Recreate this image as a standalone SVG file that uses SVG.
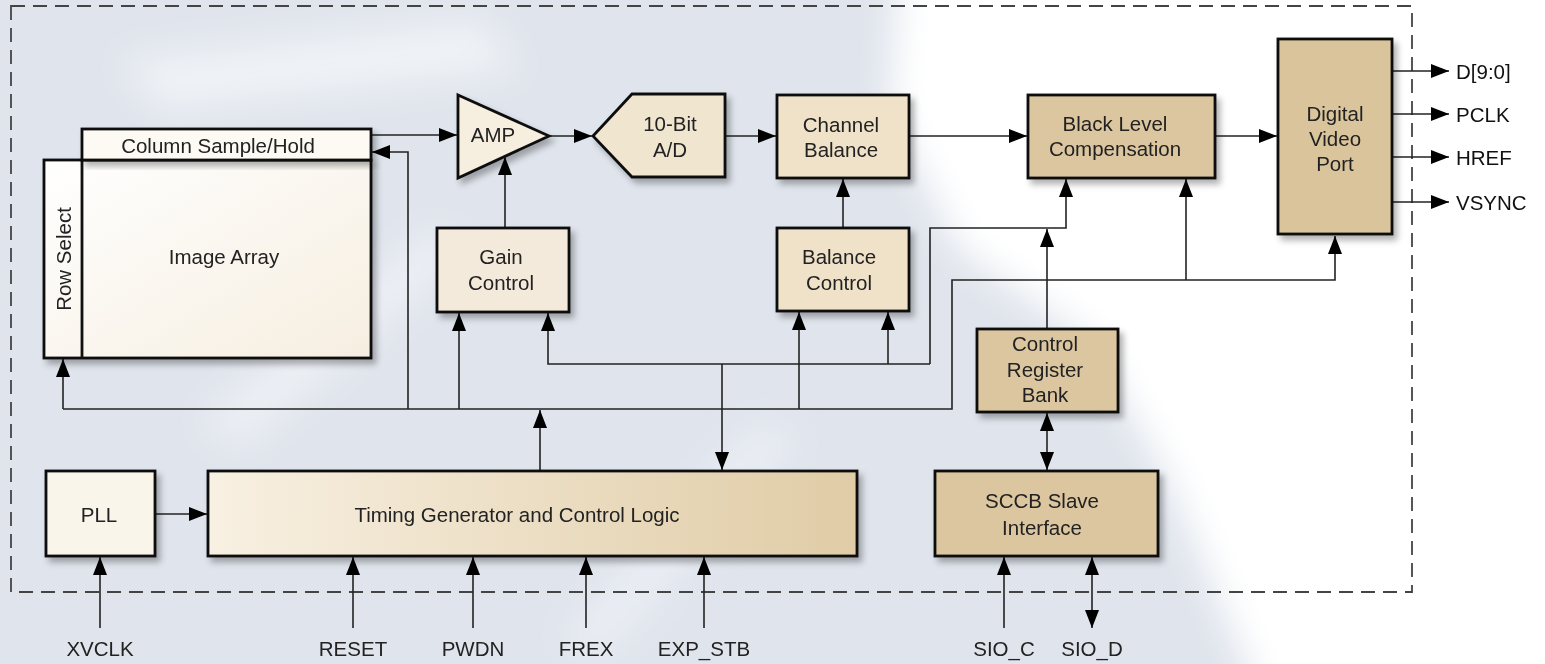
<svg xmlns="http://www.w3.org/2000/svg" width="1545" height="664" viewBox="0 0 1545 664">
<defs>
<style>
.box{stroke:#111;stroke-width:2.8}
.t{font-family:"Liberation Sans",Arial,sans-serif;font-size:20.5px;fill:#222;text-anchor:middle;dominant-baseline:central}
.lbl{font-family:"Liberation Sans",Arial,sans-serif;font-size:20.5px;fill:#111;dominant-baseline:central}
.ca{fill:none;stroke:#222;stroke-width:1.6;marker-end:url(#ah)}
.cd{fill:none;stroke:#222;stroke-width:1.6;marker-end:url(#ah);marker-start:url(#ah)}
.sh{filter:url(#shadow)}
</style>
<marker id="ah" viewBox="0 0 18 14" refX="18" refY="7" markerWidth="18" markerHeight="14" markerUnits="userSpaceOnUse" orient="auto-start-reverse">
<path d="M0,0 L18,7 L0,14 z" fill="#000"/>
</marker>
<filter id="shadow" x="-10%" y="-10%" width="130%" height="140%">
<feDropShadow dx="4" dy="5" stdDeviation="3" flood-color="#000" flood-opacity="0.3"/>
</filter>
<filter id="blur" x="-20%" y="-20%" width="140%" height="140%">
<feGaussianBlur stdDeviation="18"/>
</filter>
<linearGradient id="gImg" x1="0" y1="0" x2="1" y2="1">
<stop offset="0" stop-color="#ffffff"/>
<stop offset="1" stop-color="#f6eee0"/>
</linearGradient>
<linearGradient id="gTim" x1="0" y1="0" x2="1" y2="0">
<stop offset="0" stop-color="#f8f0e2"/>
<stop offset="1" stop-color="#e0cca6"/>
</linearGradient>
</defs>

<g id="background">
<rect x="0" y="0" width="1545" height="664" fill="#e0e5ed"/>
<g filter="url(#blur)">
<path d="M900,-40 L1600,-40 L1600,720 L1270,720 L1170,480 L1090,340 L960,250 L890,110 Z" fill="#ffffff"/>
<path d="M1420,-40 L1600,-40 L1600,720 L1440,720 Z" fill="#ffffff"/>
<path d="M120,60 L480,20 L520,70 L160,110 Z" fill="#f4f6f9" opacity="0.8"/>
<path d="M200,420 L430,230 L470,250 L240,450 Z" fill="#f2f4f8" opacity="0.7"/>
<path d="M560,640 L760,420 L800,440 L600,660 Z" fill="#eef1f6" opacity="0.7"/>
</g>
</g>

<g id="border">
<rect x="11" y="6" width="1401" height="586" fill="none" stroke="#444" stroke-width="1.8" stroke-dasharray="14 8"/>
</g>

<g id="connectors">
<path class="ca" d="M371,135 H457"/>
<path class="ca" d="M549,136 H592"/>
<path class="ca" d="M725,136 H776"/>
<path class="ca" d="M909,136 H1027"/>
<path class="ca" d="M1215,136 H1277"/>
<path class="ca" d="M1392,71 H1449"/>
<path class="ca" d="M1392,114 H1449"/>
<path class="ca" d="M1392,157 H1449"/>
<path class="ca" d="M1392,202 H1449"/>
<path class="ca" d="M505,228 V157"/>
<path class="ca" d="M843,228 V179"/>
<path class="ca" d="M63,409 H952 V280 H1335 V236"/>
<path class="ca" d="M63,409 V359"/>
<path class="ca" d="M408,409 V152 H372"/>
<path class="ca" d="M459,409 V313"/>
<path class="ca" d="M799,409 V312"/>
<path class="ca" d="M1186,280 V179"/>
<path class="ca" d="M540,471 V410"/>
<path class="ca" d="M930,364 H548 V313"/>
<path class="ca" d="M930,364 V228 H1066 V179"/>
<path class="ca" d="M888,364 V312"/>
<path class="ca" d="M722,364 V470"/>
<path class="ca" d="M1047,329 V229"/>
<path class="cd" d="M1047,413 V470"/>
<path class="ca" d="M155,514 H207"/>
<path class="ca" d="M100,628 V557"/>
<path class="ca" d="M353,628 V557"/>
<path class="ca" d="M473,628 V557"/>
<path class="ca" d="M586,628 V557"/>
<path class="ca" d="M704,628 V557"/>
<path class="ca" d="M1004,628 V557"/>
<path class="cd" d="M1092,557 V628"/>
</g>

<g id="image-array">
<rect class="box sh" x="44" y="160" width="327" height="198" fill="url(#gImg)"/>
<line x1="82" y1="160" x2="82" y2="358" stroke="#111" stroke-width="2.8"/>
<text class="t" x="224" y="256">Image Array</text>
</g>
<g id="row-select">
<text class="t" transform="translate(63,259) rotate(-90)" x="0" y="0">Row Select</text>
</g>
<g id="column-sample-hold">
<rect class="box sh" x="82" y="129" width="289" height="31" fill="#fdfaf4"/>
<text class="t" x="218" y="145">Column Sample/Hold</text>
</g>
<g id="amp">
<path class="box sh" d="M458,95 L549,136 L458,178 Z" fill="#f6efe0"/>
<text class="t" x="493" y="134">AMP</text>
</g>
<g id="adc">
<path class="box sh" d="M593,136 L632,94 L725,94 L725,177 L632,177 Z" fill="#f0e5cf"/>
<text class="t" x="670" y="123">10-Bit</text>
<text class="t" x="670" y="149">A/D</text>
</g>
<g id="channel-balance">
<rect class="box sh" x="777" y="95" width="132" height="83" fill="#efe2c9"/>
<text class="t" x="841" y="124">Channel</text>
<text class="t" x="841" y="149">Balance</text>
</g>
<g id="gain-control">
<rect class="box sh" x="437" y="228" width="132" height="84" fill="#f3eadb"/>
<text class="t" x="501" y="256">Gain</text>
<text class="t" x="501" y="282">Control</text>
</g>
<g id="balance-control">
<rect class="box sh" x="777" y="228" width="132" height="83" fill="#efe2c9"/>
<text class="t" x="839" y="256">Balance</text>
<text class="t" x="839" y="282">Control</text>
</g>
<g id="black-level-compensation">
<rect class="box sh" x="1028" y="95" width="187" height="83" fill="#dbc69f"/>
<text class="t" x="1115" y="123">Black Level</text>
<text class="t" x="1115" y="148">Compensation</text>
</g>
<g id="digital-video-port">
<rect class="box sh" x="1278" y="39" width="114" height="195" fill="#dac49c"/>
<text class="t" x="1335" y="113">Digital</text>
<text class="t" x="1335" y="138">Video</text>
<text class="t" x="1335" y="163">Port</text>
</g>
<g id="control-register-bank">
<rect class="box sh" x="977" y="329" width="141" height="83" fill="#dbc69f"/>
<text class="t" x="1045" y="343">Control</text>
<text class="t" x="1045" y="369">Register</text>
<text class="t" x="1045" y="394">Bank</text>
</g>
<g id="pll">
<rect class="box sh" x="46" y="471" width="109" height="85" fill="#faf5eb"/>
<text class="t" x="99" y="514">PLL</text>
</g>
<g id="timing-generator">
<rect class="box sh" x="208" y="471" width="649" height="85" fill="url(#gTim)"/>
<text class="t" x="517" y="514">Timing Generator and Control Logic</text>
</g>
<g id="sccb-slave-interface">
<rect class="box sh" x="935" y="471" width="223" height="85" fill="#dbc69f"/>
<text class="t" x="1042" y="500">SCCB Slave</text>
<text class="t" x="1042" y="527">Interface</text>
</g>

<g id="output-labels">
<text class="lbl" x="1456" y="71">D[9:0]</text>
<text class="lbl" x="1456" y="114">PCLK</text>
<text class="lbl" x="1456" y="157">HREF</text>
<text class="lbl" x="1456" y="202">VSYNC</text>
</g>
<g id="input-labels">
<text class="t" x="100" y="648">XVCLK</text>
<text class="t" x="353" y="648">RESET</text>
<text class="t" x="473" y="648">PWDN</text>
<text class="t" x="586" y="648">FREX</text>
<text class="t" x="704" y="648">EXP_STB</text>
<text class="t" x="1004" y="648">SIO_C</text>
<text class="t" x="1092" y="648">SIO_D</text>
</g>
</svg>
